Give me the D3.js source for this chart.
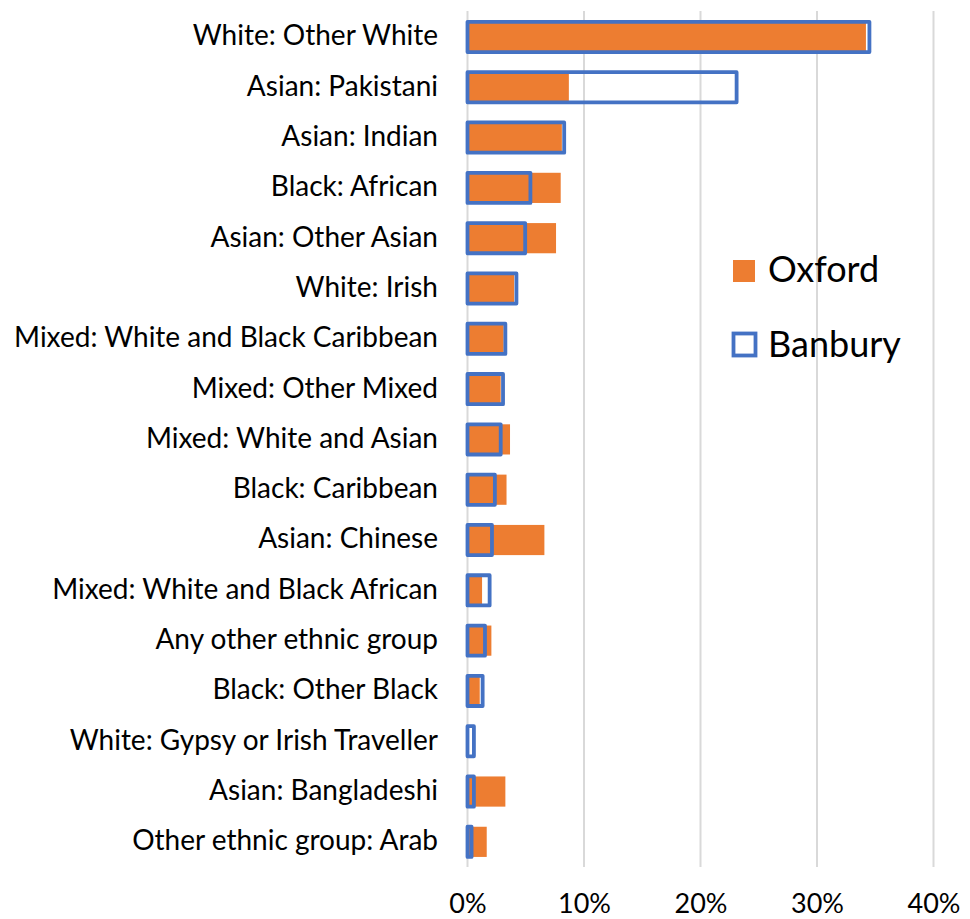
<!DOCTYPE html>
<html>
<head>
<meta charset="utf-8">
<script src="https://cdn.jsdelivr.net/npm/d3@7"></script>
<style>
  html, body { margin: 0; padding: 0; background: #fff; }
  svg { display: block; }
  text { font-family: Lato, "Open Sans", sans-serif; fill: #000; }
</style>
</head>
<body>
<svg id="chart" width="970" height="919"></svg>
<script>
const categories = [
  "White: Other White",
  "Asian: Pakistani",
  "Asian: Indian",
  "Black: African",
  "Asian: Other Asian",
  "White: Irish",
  "Mixed: White and Black Caribbean",
  "Mixed: Other Mixed",
  "Mixed: White and Asian",
  "Black: Caribbean",
  "Asian: Chinese",
  "Mixed: White and Black African",
  "Any other ethnic group",
  "Black: Other Black",
  "White: Gypsy or Irish Traveller",
  "Asian: Bangladeshi",
  "Other ethnic group: Arab"
];
const oxford  = [34.2, 8.7, 8.1, 8.0, 7.6, 4.0, 3.1, 2.85, 3.65, 3.35, 6.6, 1.25, 2.05, 1.05, 0.1, 3.25, 1.65];
const banbury = [34.5, 23.1, 8.3, 5.4, 4.95, 4.2, 3.25, 3.05, 2.85, 2.35, 2.1, 1.9, 1.5, 1.3, 0.55, 0.55, 0.35];
const xTicks = [0, 10, 20, 30, 40];
const seriesNames = ["Oxford", "Banbury"];

const svg = d3.select("#chart");
const x = d3.scaleLinear().domain([0, 40]).range([467.5, 933.5]);
const y = d3.scaleBand().domain(categories).range([11.8, 867]).paddingInner(0.4).paddingOuter(0.2);

const orange = "#ED7D31", blue = "#4472C4", grid = "#d9d9d9";
const font = "Lato, 'Open Sans', sans-serif";

// gridlines
svg.append("g").selectAll("line").data(xTicks).join("line")
  .attr("x1", d => x(d)).attr("x2", d => x(d))
  .attr("y1", 11).attr("y2", 867)
  .attr("stroke", grid).attr("stroke-width", 2);

// x axis labels
const xAxis = d3.axisBottom(x).tickValues(xTicks).tickFormat(d => d + "%").tickSize(0).tickPadding(0);
const gx = svg.append("g").attr("transform", "translate(0,913)").call(xAxis);
gx.select(".domain").remove();
gx.selectAll("text").attr("font-size", 27).attr("font-family", font).attr("fill", "#000").attr("dy", null).attr("y", 0);

// y axis labels
const yAxis = d3.axisLeft(y).tickSize(0).tickPadding(0);
const gy = svg.append("g").attr("transform", "translate(438,0)").call(yAxis);
gy.select(".domain").remove();
gy.selectAll("text").attr("font-size", 28).attr("font-family", font).attr("fill", "#000").attr("dy", "0.3em");

// bars
svg.append("g").selectAll("rect").data(categories).join("rect")
  .attr("x", x(0)).attr("y", d => y(d))
  .attr("width", (d, i) => x(oxford[i]) - x(0))
  .attr("height", y.bandwidth())
  .attr("fill", orange);

svg.append("g").selectAll("rect").data(categories).join("rect")
  .attr("x", x(0)).attr("y", d => y(d))
  .attr("width", (d, i) => x(banbury[i]) - x(0))
  .attr("height", y.bandwidth())
  .attr("fill", "none").attr("stroke", blue).attr("stroke-width", 3.8)
  .attr("stroke-linejoin", "round");

// legend
const lg = svg.append("g");
lg.append("rect").attr("x", 733).attr("y", 260).attr("width", 22).attr("height", 22).attr("fill", orange);
lg.append("rect").attr("x", 733.5).attr("y", 333.5).attr("width", 22).attr("height", 22)
  .attr("fill", "none").attr("stroke", blue).attr("stroke-width", 3.8);
lg.selectAll("text").data(seriesNames).join("text")
  .attr("x", 768).attr("y", (d, i) => i === 0 ? 282 : 357)
  .attr("font-size", 36).attr("font-family", font).text(d => d);
</script>
</body>
</html>
